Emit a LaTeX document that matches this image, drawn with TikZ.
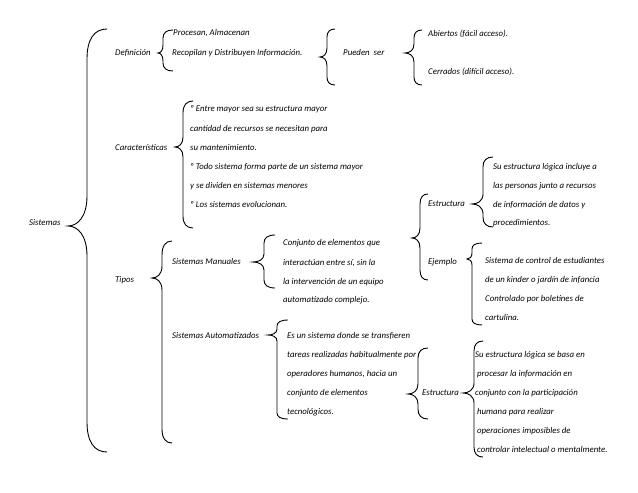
\documentclass[tikz,border=0pt]{standalone}
\usepackage{fontspec}
\setmainfont{Carlito}
\tikzset{
  txt/.style={anchor=west, inner sep=0pt, text height=6pt, text depth=2pt, font=\fontsize{8.8}{10}\selectfont\itshape},
  bracestyle/.style={draw=black, line width=0.9pt}
}
% #1 end x, #2 top y, #3 spine x, #4 tip x, #5 tip y, #6 bottom y, #7 end radius, #8 tip radius
\newcommand\cbrace[8]{%
  \draw[bracestyle] (#1,#2) .. controls (#3+0.35*#1-0.35*#3,#2) and (#3,#2+0.35*#7) .. (#3,#2+#7) -- (#3,#5-#8)
    .. controls (#3,#5-0.3*#8) and (#3+0.5*#4-0.5*#3,#5) .. (#4,#5)
    .. controls (#3+0.5*#4-0.5*#3,#5) and (#3,#5+0.3*#8) .. (#3,#5+#8)
    -- (#3,#6-#7) .. controls (#3,#6-0.35*#7) and (#3+0.35*#1-0.35*#3,#6) .. (#1,#6);}
\begin{document}
\begin{tikzpicture}[x=1pt,y=-1pt]
\useasboundingbox (0,0) rectangle (638,493);
\fill[white] (0,0) rectangle (638,493);

% braces
\cbrace{107}{29}{87}{68}{226}{452}{30}{30}
\cbrace{173}{30}{163}{158}{53}{71}{8}{8}
\cbrace{335}{29}{327}{320}{57}{85}{8}{9}
\cbrace{422}{30}{414}{405}{53}{85}{8}{9}
\cbrace{193}{101}{183}{175}{147}{228}{12}{10}
\cbrace{172}{241}{162}{152}{278}{443}{14}{12}
\cbrace{275}{235}{264}{253}{262}{288}{8}{8}
\cbrace{288}{320}{277}{268}{335}{419}{6}{6}
\cbrace{428}{348}{418}{408}{394}{419}{10}{10}
\cbrace{483}{341}{474}{463}{393}{457}{10}{10}
\cbrace{428}{194}{420}{412}{238}{280}{10}{10}
\cbrace{493}{157}{483}{472}{204}{227}{10}{10}
\cbrace{482}{243}{472}{467}{259}{325}{6}{6}

% texts
\node[txt] (sist) at (29,223) {Sistemas};
\node[txt] (def) at (115,53) {Definición};
\node[txt] (proc) at (173,33) {Procesan, Almacenan};
\node[txt] (reco) at (172,53) {Recopilan y Distribuyen Información.};
\node[txt] (pued) at (343,53) {Pueden\ \ ser};
\node[txt] (abi) at (428,34) {Abiertos (fácil acceso).};
\node[txt] (cer) at (428,72) {Cerrados (difícil acceso).};

\node[txt] (car) at (115,148) {Características};
\node[txt] (c1) at (190,109) {º Entre mayor sea su estructura mayor};
\node[txt] (c2) at (190,129) {cantidad de recursos se necesitan para};
\node[txt] (c3) at (190,148) {su mantenimiento.};
\node[txt] (c4) at (190,167) {º Todo sistema forma parte de un sistema mayor};
\node[txt] (c5) at (190,186) {y se dividen en sistemas menores};
\node[txt] (c6) at (190,205) {º Los sistemas evolucionan.};

\node[txt] (tipos) at (115,280) {Tipos};
\node[txt] (man) at (172,262) {Sistemas Manuales};
\node[txt] (m1) at (283,243) {Conjunto de elementos que};
\node[txt] (m2) at (283,263) {interactúan entre sí, sin la};
\node[txt] (m3) at (283,282) {la intervención de un equipo};
\node[txt] (m4) at (283,300) {automatizado complejo.};

\node[txt] (aut) at (172,336) {Sistemas Automatizados};
\node[txt] (a1) at (287,336) {Es un sistema donde se transfieren};
\node[txt] (a2) at (287,355) {tareas realizadas habitualmente por};
\node[txt] (a3) at (287,374) {operadores humanos, hacia un};
\node[txt] (a4) at (287,393) {conjunto de elementos};
\node[txt] (a5) at (287,412) {tecnológicos.};

\node[txt] (est1) at (428,204) {Estructura};
\node[txt] (ej) at (428,262) {Ejemplo};
\node[txt] (e1) at (493,167) {Su estructura lógica incluye a};
\node[txt] (e2) at (493,186) {las personas junto a recursos};
\node[txt] (e3) at (493,205) {de información de datos y};
\node[txt] (e4) at (493,223) {procedimientos.};
\node[txt] (j1) at (485,261) {Sistema de control de estudiantes};
\node[txt] (j2) at (485,280) {de un kinder o jardín de infancia};
\node[txt] (j3) at (485,299) {Controlado por boletines de};
\node[txt] (j4) at (485,318) {cartulina.};

\node[txt] (est2) at (422,393) {Estructura};
\node[txt] (s1) at (475,355) {Su estructura lógica se basa en};
\node[txt] (s2) at (477,374) {procesar la información en};
\node[txt] (s3) at (475,393) {conjunto con la participación};
\node[txt] (s4) at (477,412) {humana para realizar};
\node[txt] (s5) at (477,431) {operaciones imposibles de};
\node[txt] (s6) at (477,450) {controlar intelectual o mentalmente.};
\end{tikzpicture}
\end{document}
